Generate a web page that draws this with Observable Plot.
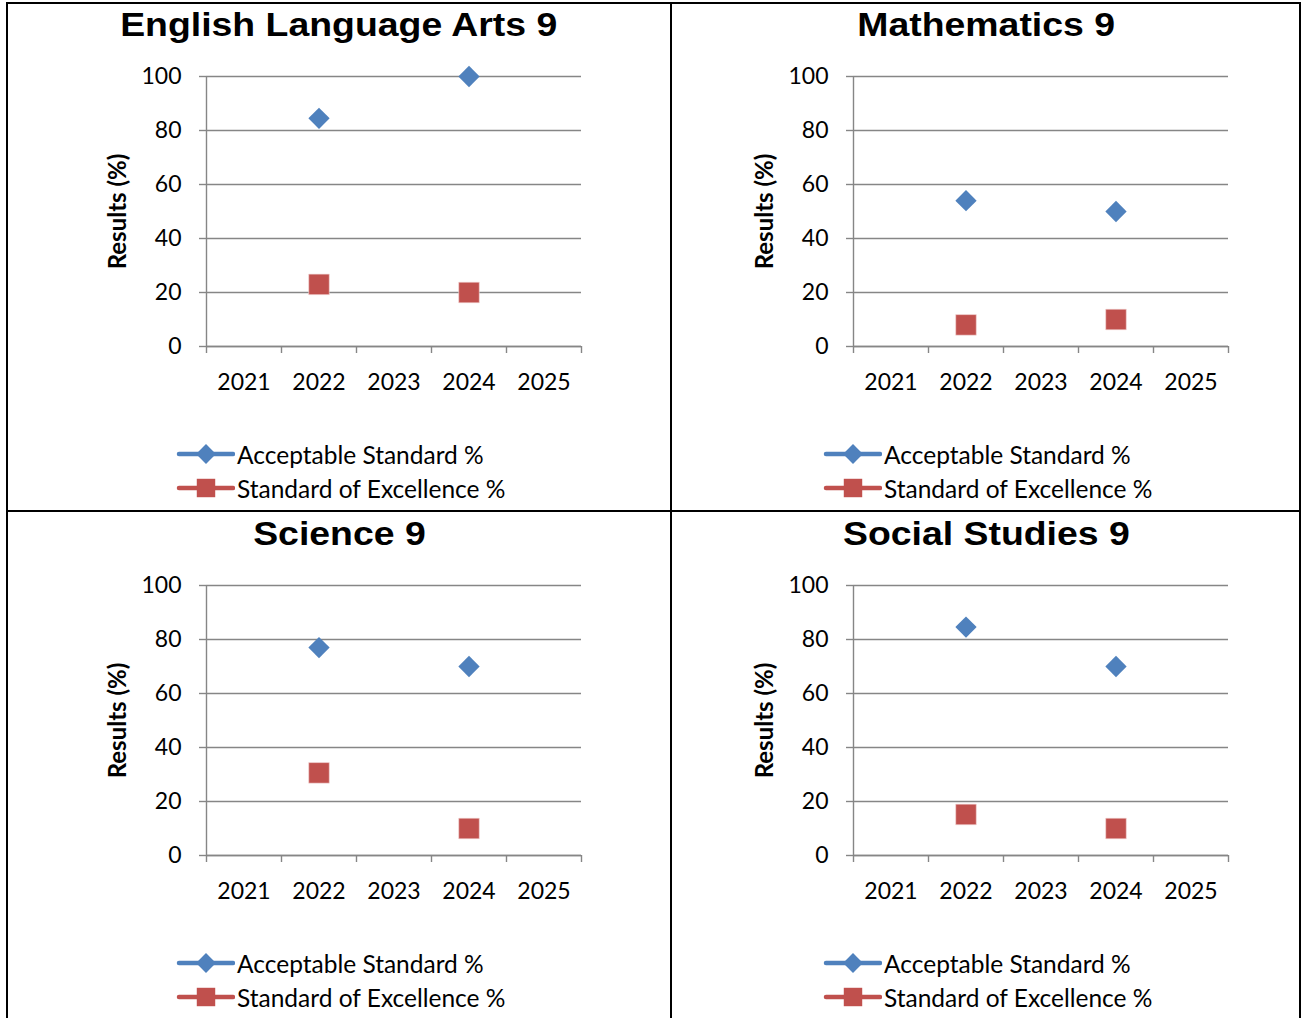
<!DOCTYPE html>
<html><head><meta charset="utf-8">
<script src="https://cdn.jsdelivr.net/npm/d3@7"></script>
<script src="https://cdn.jsdelivr.net/npm/@observablehq/plot@0.6"></script>
<style>
body{margin:0;background:#fff;}
#wrap{position:relative;width:1301px;height:1018px;overflow:hidden;background:#fff;}
.bline{position:absolute;background:#000;}
.title{position:absolute;width:664px;text-align:center;font-family:"Liberation Sans",Arial,sans-serif;font-weight:bold;font-size:34px;line-height:34px;color:#000;white-space:nowrap;}
.title span{display:inline-block;transform:scaleX(1.1);transform-origin:center;}
.plot{position:absolute;}
.legend{position:absolute;font-family:Lato,sans-serif;font-size:24.5px;color:#000;white-space:nowrap;}
.legend .row{position:absolute;left:0;height:34px;display:flex;align-items:center;}
.legend svg{display:block;}
</style></head><body><div id="wrap"></div>
<script>
const subjects = ["English Language Arts 9", "Mathematics 9", "Science 9", "Social Studies 9"];
const years = [2021, 2022, 2023, 2024, 2025];
const resultYears = [2022, 2024];
const acceptable = [[84.5, 100], [54, 50], [77, 70], [84.6, 70]];
const excellence = [[23, 20], [8, 10], [30.6, 10], [15.2, 10]];
const seriesNames = ["Acceptable Standard %", "Standard of Excellence %"];
const seriesColors = ["#4F81BD", "#C0504D"];
const yTicks = [0, 20, 40, 60, 80, 100];
const yLabel = "Results (%)";

const grid = "#868686";
const wrap = document.getElementById("wrap");

function addLine(l, t, w, h) {
  const d = document.createElement("div");
  d.className = "bline";
  Object.assign(d.style, {left: l + "px", top: t + "px", width: w + "px", height: h + "px"});
  wrap.appendChild(d);
}

function makePlot(i) {
  const acc = resultYears.map((yr, j) => ({year: yr, value: acceptable[i][j]}));
  const exc = resultYears.map((yr, j) => ({year: yr, value: excellence[i][j]}));
  const bounds = years.map(y => y - 0.5).concat([years[years.length - 1] + 0.5]);
  return Plot.plot({
    width: 640, height: 350,
    marginLeft: 206, marginRight: 59, marginTop: 26, marginBottom: 54,
    x: {type: "linear", domain: [bounds[0], bounds[bounds.length - 1]]},
    y: {domain: [0, 100]},
    style: {fontFamily: "Lato, sans-serif", fontSize: "23px", color: "#000", background: "transparent", overflow: "visible"},
    marks: [
      Plot.gridY(yTicks, {stroke: grid, strokeOpacity: 1, strokeWidth: 1.4}),
      Plot.axisY(yTicks, {tickSize: 7, tickPadding: 18, stroke: grid, strokeWidth: 1.4, fill: "#000", label: null, fontSize: 23}),
      Plot.ruleX([bounds[0]], {stroke: grid, strokeWidth: 1.4}),
      Plot.ruleY([0], {stroke: grid, strokeWidth: 1.4}),
      Plot.axisX(bounds, {tickSize: 7, tickFormat: () => "", stroke: grid, strokeWidth: 1.4, label: null}),
      Plot.axisX(years, {tickSize: 0, tickPadding: 27, tickFormat: d => String(d), fill: "#000", label: null, fontSize: 23}),
      Plot.text([yLabel], {frameAnchor: "left", textAnchor: "middle", dx: -88, rotate: -90, fontWeight: "bold", fontSize: 24, fill: "#000"}),
      Plot.dot(acc, {x: "year", y: "value", symbol: d3.symbolDiamond2, r: 9.6, fill: seriesColors[0], stroke: "none"}),
      Plot.dot(exc, {x: "year", y: "value", symbol: d3.symbolSquare, r: 11.6, fill: seriesColors[1], stroke: "#f3d9d8", strokeWidth: 0.6})
    ]
  });
}

function legendSwatch(k) {
  const ns = "http://www.w3.org/2000/svg";
  const svg = document.createElementNS(ns, "svg");
  svg.setAttribute("width", 60); svg.setAttribute("height", 34);
  const line = document.createElementNS(ns, "line");
  line.setAttribute("x1", 4); line.setAttribute("x2", 58);
  line.setAttribute("y1", 17); line.setAttribute("y2", 17);
  line.setAttribute("stroke", seriesColors[k]); line.setAttribute("stroke-width", 4.5);
  line.setAttribute("stroke-linecap", "round");
  svg.appendChild(line);
  const p = document.createElementNS(ns, "path");
  const sym = k === 0 ? d3.symbol(d3.symbolDiamond2, 250) : d3.symbol(d3.symbolSquare, 340);
  p.setAttribute("d", sym());
  p.setAttribute("transform", "translate(31,17)");
  p.setAttribute("fill", seriesColors[k]);
  svg.appendChild(p);
  return svg;
}

subjects.forEach((s, i) => {
  const col = i % 2, row = Math.floor(i / 2);
  const ox = col * 647, oy = row * 509;
  const t = document.createElement("div");
  t.className = "title";
  t.style.left = (7 + ox) + "px";
  t.style.top = (7 + oy) + "px";
  const sp = document.createElement("span");
  sp.textContent = s;
  t.appendChild(sp);
  wrap.appendChild(t);

  const p = document.createElement("div");
  p.className = "plot";
  p.style.left = ox + "px";
  p.style.top = (50 + oy) + "px";
  p.appendChild(makePlot(i));
  wrap.appendChild(p);

  const lg = document.createElement("div");
  lg.className = "legend";
  lg.style.left = (175 + ox) + "px";
  lg.style.top = (437 + oy) + "px";
  seriesNames.forEach((n, k) => {
    const r = document.createElement("div");
    r.className = "row";
    r.style.top = (k * 34) + "px";
    r.appendChild(legendSwatch(k));
    const tx = document.createElement("span");
    tx.textContent = n;
    tx.style.marginLeft = "2px";
    r.appendChild(tx);
    lg.appendChild(r);
  });
  wrap.appendChild(lg);
});

// panel borders
addLine(6, 2, 1295, 2);
addLine(6, 2, 2, 1016);
addLine(670, 2, 2, 1016);
addLine(1299, 2, 2, 1016);
addLine(6, 510, 1295, 2);
</script>
</body></html>
